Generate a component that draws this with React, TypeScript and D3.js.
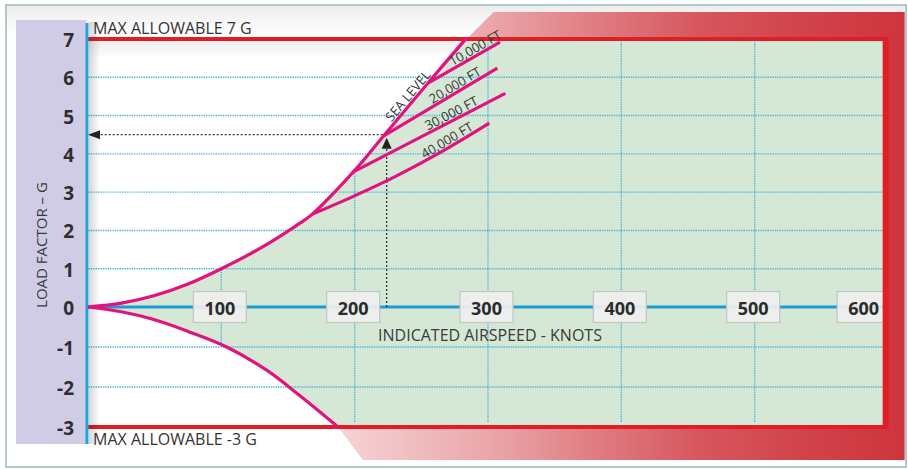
import React from "react";
import * as d3 from "d3";

type Pt = [number, number];

// ---- data (airspeed in knots, load factor in G) ----
const AIRSPEED_TICKS = [100, 200, 300, 400, 500, 600];
const LOAD_TICKS = [7, 6, 5, 4, 3, 2, 1, 0, -1, -2, -3];
const GRID_LOADS = [6, 5, 4, 3, 2, 1, -1, -2];
const GRID_AIRSPEEDS = [100, 200, 300, 400, 500];
const MAX_G = 7;
const MIN_G = -3;
const MAX_AIRSPEED = 597.5;

const commonCurve: Pt[] = [[0, 0], [25, 0.1], [50, 0.3], [75, 0.6], [100, 1.0], [130, 1.55], [159, 2.19], [168, 2.42]];
const seaLevel: Pt[] = [[168, 2.42], [199, 3.53], [221.5, 4.46], [255, 5.85], [284, 7.03]];
const ft10000: Pt[] = [[255, 5.85], [309, 6.92]];
const ft20000: Pt[] = [[221.5, 4.46], [307, 6.24]];
const ft30000: Pt[] = [[199, 3.53], [313, 5.58]];
const ft40000: Pt[] = [[168, 2.42], [199, 2.89], [230, 3.4], [265, 4.05], [301, 4.8]];
const negativeCurve: Pt[] = [[0, 0], [25, -0.12], [50, -0.32], [75, -0.61], [104, -1.0], [134, -1.58], [159, -2.22], [187.5, -3]];

const ALTITUDE_LABELS = [
  { text: "SEA LEVEL", series: seaLevel, airspeed: 244 },
  { text: "10,000 FT", series: ft10000, airspeed: 293 },
  { text: "20,000 FT", series: ft20000, airspeed: 278 },
  { text: "30,000 FT", series: ft30000, airspeed: 275 },
  { text: "40,000 FT", series: ft40000, airspeed: 272 },
];

const EXAMPLE = { airspeed: 224, load: 4.5 };

const W = 908;
const H = 469;
const FONT = "'Open Sans', 'Noto Sans', sans-serif";
const MAGENTA = "#e2137f";
const RED = "#e21d26";

export default function App() {
  const x = d3.scaleLinear().domain([0, 600]).range([88, 888]);
  const y = d3.scaleLinear().domain([-3, 0, 7]).range([427, 307, 39]);

  const line = d3
    .line<Pt>()
    .x((d) => x(d[0]))
    .y((d) => y(d[1]))
    .curve(d3.curveCatmullRom.alpha(0.5));

  const upper: Pt[] = [...commonCurve, ...seaLevel.slice(1)];
  const right = x(MAX_AIRSPEED);
  const lowerRev = [...negativeCurve].reverse();
  const greenPath =
    (line(upper) as string) +
    `L${right},${y(MAX_G)}L${right},${y(MIN_G)}` +
    "L" +
    (line(lowerRev) as string).slice(1) +
    "Z";

  // structural damage band
  const topEnd = seaLevel[seaLevel.length - 1];
  const botEnd = negativeCurve[negativeCurve.length - 1];
  const xT = x(topEnd[0]);
  const yT = y(MAX_G);
  const xB = x(botEnd[0]);
  const yB = y(MIN_G);
  const bandPts: Pt[] = [
    [xT, yT],
    [xT + 27, yT - 27],
    [right + 20, yT - 27],
    [right + 20, yB + 33],
    [xB + 25, yB + 33],
    [xB, yB],
    [right, yB],
    [right, yT],
  ];
  const bandPath = "M" + bandPts.map((p) => p.join(",")).join("L") + "Z";

  const labelPos = (series: Pt[], v: number) => {
    let i = 0;
    while (i < series.length - 2 && series[i + 1][0] < v) i++;
    const a = series[i];
    const b = series[i + 1];
    const ax = x(a[0]), ay = y(a[1]), bx = x(b[0]), by = y(b[1]);
    const t = (x(v) - ax) / (bx - ax);
    const px = ax + t * (bx - ax);
    const py = ay + t * (by - ay);
    const ang = Math.atan2(by - ay, bx - ax);
    const off = 7.5;
    return {
      cx: px + Math.sin(ang) * off,
      cy: py - Math.cos(ang) * off,
      deg: (ang * 180) / Math.PI,
    };
  };

  const ex = x(EXAMPLE.airspeed);
  const ey = y(EXAMPLE.load);

  return (
    <svg
      width={W}
      height={H}
      style={{ position: "absolute", left: 0, top: 0, fontFamily: FONT }}
    >
      <defs>
        <linearGradient id="band" gradientUnits="userSpaceOnUse" x1={xB} x2={right + 20} y1={0} y2={0}>
          <stop offset="0" stopColor="#f6d4d6" />
          <stop offset="0.28" stopColor="#eaa4a8" />
          <stop offset="0.46" stopColor="#df7b81" />
          <stop offset="0.64" stopColor="#d7565e" />
          <stop offset="0.81" stopColor="#d2444c" />
          <stop offset="1" stopColor="#cf343d" />
        </linearGradient>
        <linearGradient id="topShade" x1="0" x2="0" y1="0" y2="1">
          <stop offset="0" stopColor="#000" stopOpacity="0.07" />
          <stop offset="1" stopColor="#000" stopOpacity="0" />
        </linearGradient>
        <linearGradient id="sideShade" x1="0" x2="1" y1="0" y2="0">
          <stop offset="0" stopColor="#000" stopOpacity="0.16" />
          <stop offset="1" stopColor="#000" stopOpacity="0" />
        </linearGradient>
        <clipPath id="greenClip">
          <path d={greenPath} />
        </clipPath>
        <clipPath id="plotClip">
          <rect x={0} y={0} width={right - 2} height={H} />
        </clipPath>
      </defs>

      {/* frame */}
      <rect x={6} y={5} width={900} height={462} fill="#fff" stroke="#98b8b8" strokeWidth={1.5} />
      <rect x={7} y={6} width={898} height={30} fill="url(#topShade)" />
      <rect x={88} y={yT + 2} width={right - 88} height={18} fill="url(#topShade)" />

      {/* damage band */}
      <path d={bandPath} fill="url(#band)" />

      {/* normal envelope */}
      <path d={greenPath} fill="#d5e8d6" />

      {/* grid */}
      {GRID_LOADS.map((g) => (
        <line
          key={"h" + g}
          x1={86}
          x2={right}
          y1={y(g)}
          y2={y(g)}
          stroke="#4fb5dc"
          strokeWidth={1.4}
          strokeDasharray="1.4,1"
        />
      ))}
      <g clipPath="url(#greenClip)">
        {GRID_AIRSPEEDS.map((v) => (
          <line
            key={"v" + v}
            x1={x(v)}
            x2={x(v)}
            y1={y(MAX_G)}
            y2={y(MIN_G) - 5}
            stroke="#4fb5dc"
            strokeWidth={1.4}
            strokeDasharray="1.4,1"
          />
        ))}
      </g>

      {/* limit lines */}
      <line x1={87} x2={right} y1={yT} y2={yT} stroke={RED} strokeWidth={4} />
      <line x1={87} x2={right} y1={yB} y2={yB} stroke={RED} strokeWidth={4} />

      {/* y axis band */}
      <rect x={16} y={20} width={70} height={424} fill="#d0cce5" />
      <rect x={89} y={22} width={11} height={422} fill="url(#sideShade)" />
      <line x1={87} x2={87} y1={23} y2={444} stroke="#1ea2dd" strokeWidth={3} />

      {/* x axis */}
      <line x1={88} x2={right} y1={y(0)} y2={y(0)} stroke="#1b9ad6" strokeWidth={3} />

      {/* example arrows */}
      <line x1={ex} x2={ex} y1={y(0)} y2={ey + 12} stroke="#333" strokeWidth={1.3} strokeDasharray="2,2" />
      <path d={`M${ex},${ey + 3}L${ex - 5},${ey + 14}L${ex + 5},${ey + 14}Z`} fill="#222" />
      <line x1={ex - 4} x2={x(0) + 10} y1={ey} y2={ey} stroke="#333" strokeWidth={1.3} strokeDasharray="2,2" />
      <path d={`M${x(0)},${ey}L${x(0) + 12},${ey - 4.5}L${x(0) + 12},${ey + 4.5}Z`} fill="#222" />

      {/* curves */}
      {[upper, ft10000, ft20000, ft30000, ft40000, negativeCurve].map((s, i) => (
        <path key={"c" + i} d={line(s) as string} fill="none" stroke={MAGENTA} strokeWidth={3.2} />
      ))}

      {/* altitude labels */}
      {ALTITUDE_LABELS.map((l) => {
        const p = labelPos(l.series, l.airspeed);
        return (
          <text
            key={l.text}
            transform={`translate(${p.cx},${p.cy}) rotate(${p.deg})`}
            textAnchor="middle"
            dominantBaseline="central"
            fontSize={13}
            fill="#333"
          >
            {l.text}
          </text>
        );
      })}

      {/* y ticks */}
      {LOAD_TICKS.map((g) => (
        <text
          key={"yt" + g}
          x={74}
          y={y(g) + 1}
          textAnchor="end"
          dominantBaseline="central"
          fontSize={19}
          fontWeight="bold"
          fill="#2e2e2e"
        >
          {g}
        </text>
      ))}
      <text
        transform={`translate(47,245) rotate(-90)`}
        textAnchor="middle"
        fontSize={15}
        fill="#3a3a3a"
      >
        LOAD FACTOR – G
      </text>

      {/* x tick boxes */}
      <g clipPath="url(#plotClip)">
        {AIRSPEED_TICKS.map((v) => {
          const cx = Math.min(x(v) - 1.5, right - 21);
          return (
            <g key={"xt" + v}>
              <rect
                x={cx - 26.5}
                y={y(0) - 15.5}
                width={53}
                height={31}
                fill="#efefef"
                fillOpacity={0.92}
                stroke="#c4c4c4"
                strokeWidth={1.2}
              />
              <text
                x={cx}
                y={y(0) + 1}
                textAnchor="middle"
                dominantBaseline="central"
                fontSize={18}
                fontWeight="bold"
                fill="#2b2b2b"
              >
                {v}
              </text>
            </g>
          );
        })}
      </g>
      {/* right limit border */}
      <line x1={right + 1} x2={right + 1} y1={yT - 2} y2={yB + 2} stroke={RED} strokeWidth={6} />

      <text x={490} y={341} textAnchor="middle" fontSize={16} fill="#3a3a3a">
        INDICATED AIRSPEED - KNOTS
      </text>
      <text x={93} y={34} fontSize={16} fill="#333">
        MAX ALLOWABLE 7 G
      </text>
      <text x={93} y={445} fontSize={16} fill="#333">
        MAX ALLOWABLE -3 G
      </text>
    </svg>
  );
}
